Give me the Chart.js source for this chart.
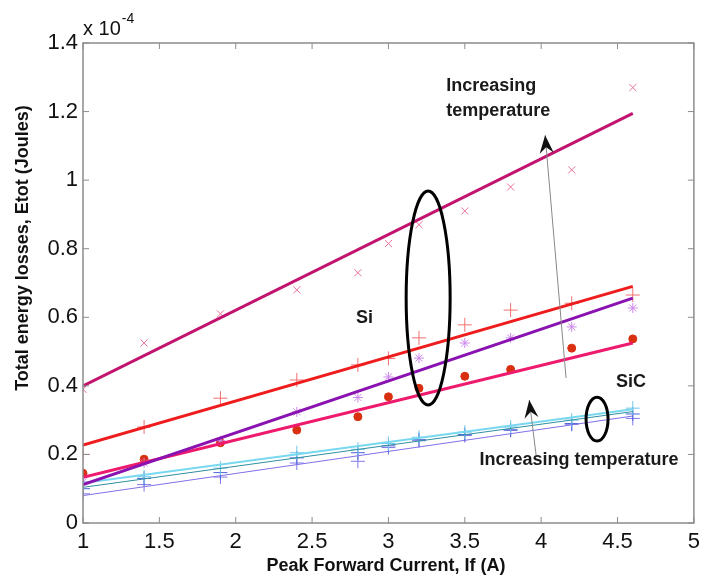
<!DOCTYPE html>
<html><head><meta charset="utf-8">
<script src="https://cdn.jsdelivr.net/npm/chart.js@4/dist/chart.umd.min.js"></script>
<style>html,body{margin:0;padding:0;background:#fff}#wrap{width:706px;height:578px}</style>
</head><body><div id="wrap"><canvas id="c" width="706" height="578"></canvas></div>
<script>
// ---- data (values in units of 1e-4 J) ----
const currents = [1, 1.4, 1.9, 2.4, 2.8, 3.0, 3.2, 3.5, 3.8, 4.2, 4.6];
const siCross  = [0.39, 0.525, 0.61, 0.68, 0.73, 0.815, 0.87, 0.91, 0.98, 1.03, 1.27];
const siPlus   = [0.20, 0.28, 0.364, 0.417, 0.461, 0.48, 0.54, 0.578, 0.621, 0.641, 0.665];
const siStar   = [0.12, 0.175, 0.24, 0.324, 0.366, 0.426, 0.481, 0.525, 0.54, 0.572, 0.627];
const siDot    = [0.145, 0.186, 0.234, 0.271, 0.31, 0.368, 0.393, 0.428, 0.448, 0.51, 0.537];
const sicA     = [0.115, 0.135, 0.16, 0.205, 0.215, 0.232, 0.25, 0.265, 0.28, 0.30, 0.335];
const sicB     = [0.10, 0.13, 0.147, 0.19, 0.205, 0.225, 0.243, 0.258, 0.272, 0.29, 0.318];
const sicC     = [0.085, 0.112, 0.134, 0.175, 0.18, 0.22, 0.24, 0.255, 0.27, 0.288, 0.305];
const fitX      = [1, 4.6];
const fitSiCross = [0.40, 1.195];
const fitSiPlus  = [0.227, 0.69];
const fitSiStar  = [0.112, 0.656];
const fitSiDot   = [0.133, 0.525];
const fitSicA    = [0.117, 0.332];
const fitSicB    = [0.104, 0.325];
const fitSicC    = [0.08, 0.312];
const xTicks = [1, 1.5, 2, 2.5, 3, 3.5, 4, 4.5, 5];
const yTicks = [0, 0.2, 0.4, 0.6, 0.8, 1, 1.2, 1.4];

const pts = (xs, ys) => xs.map((x, i) => ({x, y: ys[i]}));
const fitDs = (ys, color, w) => ({data: pts(fitX, ys), showLine: true, borderColor: color, borderWidth: w, pointRadius: 0, fill: false});
const markDs = (ys, style, color, r, w) => ({data: pts(currents, ys), showLine: false, pointStyle: style, pointRadius: r, borderColor: color, backgroundColor: color, pointBorderWidth: w});

const FONT = '"Liberation Sans", Arial, Helvetica, sans-serif';

function line(ctx, x1, y1, x2, y2) { ctx.beginPath(); ctx.moveTo(x1, y1); ctx.lineTo(x2, y2); ctx.stroke(); }
function arrow(ctx, x1, y1, x2, y2) {
  ctx.strokeStyle = '#888'; ctx.lineWidth = 1;
  line(ctx, x1, y1, x2, y2);
  const ang = Math.atan2(y2 - y1, x2 - x1);
  const L = 18, W = 7, N = 12;
  const bx = x2 - Math.cos(ang) * L, by = y2 - Math.sin(ang) * L;
  const nx = x2 - Math.cos(ang) * N, ny = y2 - Math.sin(ang) * N;
  const px = -Math.sin(ang) * W, py = Math.cos(ang) * W;
  ctx.fillStyle = '#111';
  ctx.beginPath();
  ctx.moveTo(x2, y2); ctx.lineTo(bx + px, by + py); ctx.lineTo(nx, ny); ctx.lineTo(bx - px, by - py); ctx.closePath();
  ctx.fill();
}

const frame = {
  id: 'frame',
  afterDraw(chart) {
    const {ctx, chartArea: a, scales: {x, y}} = chart;
    ctx.save();
    ctx.strokeStyle = '#8c8c8c'; ctx.lineWidth = 1.5;
    ctx.strokeRect(a.left, a.top, a.right - a.left, a.bottom - a.top);
    ctx.lineWidth = 1;
    const L = 6;
    xTicks.forEach(v => { const p = x.getPixelForValue(v); line(ctx, p, a.bottom, p, a.bottom - L); line(ctx, p, a.top, p, a.top + L); });
    yTicks.forEach(v => { const p = y.getPixelForValue(v); line(ctx, a.left, p, a.left + L, p); line(ctx, a.right, p, a.right - L, p); });

    // exponent
    ctx.fillStyle = '#111'; ctx.textBaseline = 'alphabetic'; ctx.textAlign = 'left';
    ctx.font = '20px ' + FONT;
    ctx.fillText('x 10', a.left, 35);
    const w = ctx.measureText('x 10').width;
    ctx.font = '14px ' + FONT;
    ctx.fillText('-4', a.left + w + 1, 23);

    // axis titles
    ctx.font = 'bold 18px ' + FONT; ctx.textAlign = 'center'; ctx.textBaseline = 'middle';
    ctx.fillText('Peak Forward Current, If (A)', 386, 566);
    ctx.save(); ctx.translate(23, 248); ctx.rotate(-Math.PI / 2);
    ctx.fillText('Total energy losses, Etot (Joules)', 0, 0);
    ctx.restore();

    // annotations (anchored in data coordinates)
    const X = v => x.getPixelForValue(v), Y = v => y.getPixelForValue(v);
    ctx.strokeStyle = '#000'; ctx.lineWidth = 3;
    ctx.beginPath(); ctx.ellipse(X(3.26), Y(0.656), X(3.26 + 0.144) - X(3.26), Y(0) - Y(0.312), 0, 0, Math.PI * 2); ctx.stroke();
    ctx.beginPath(); ctx.ellipse(X(4.366), Y(0.303), X(1.072) - X(1), Y(0) - Y(0.064), 0, 0, Math.PI * 2); ctx.stroke();

    ctx.fillStyle = '#1a1a1a'; ctx.font = 'bold 18px ' + FONT;
    ctx.textAlign = 'center'; ctx.textBaseline = 'middle';
    ctx.fillText('Si', X(2.843), Y(0.598));
    ctx.fillText('SiC', X(4.588), Y(0.411));
    ctx.fillText('Increasing temperature', X(4.248), Y(0.184));
    ctx.textAlign = 'left';
    ctx.fillText('Increasing', X(3.379), Y(1.274));
    ctx.fillText('temperature', X(3.379), Y(1.2015));

    arrow(ctx, X(4.163), Y(0.423), X(4.026), Y(1.131));
    arrow(ctx, X(3.967), Y(0.198), X(3.922), Y(0.359));
    ctx.restore();
  }
};

new Chart(document.getElementById('c'), {
  type: 'scatter',
  data: {
    datasets: [
      fitDs(fitSiCross, '#c2146f', 3),
      fitDs(fitSiPlus, '#ee1c1c', 3),
      fitDs(fitSiStar, '#8a12b0', 3),
      fitDs(fitSiDot, '#ee1a6e', 3),
      fitDs(fitSicA, '#78d8f0', 2),
      fitDs(fitSicB, '#2f8fa0', 1),
      fitDs(fitSicC, '#8070e8', 1),
      markDs(siCross, 'crossRot', '#e8709a', 5, 1),
      markDs(siPlus, 'cross', '#f07070', 7, 1),
      markDs(siStar, 'star', '#cc88ec', 5, 1),
      markDs(siDot, 'circle', '#d83010', 4, 1),
      markDs(sicA, 'cross', '#70c8e8', 7, 1),
      markDs(sicB, 'cross', '#4a64d8', 7, 1),
      markDs(sicC, 'cross', '#7f78e8', 7, 1)
    ]
  },
  options: {
    responsive: false, devicePixelRatio: 1, animation: false,
    layout: {padding: {top: 43, right: 11, left: 0, bottom: 0}},
    plugins: {legend: {display: false}, tooltip: {enabled: false}},
    elements: {line: {tension: 0}},
    scales: {
      x: {
        type: 'linear', min: 1, max: 5,
        afterBuildTicks: s => { s.ticks = xTicks.map(v => ({value: v})); },
        afterFit: s => { s.height = 55; },
        grid: {display: false, drawTicks: false}, border: {display: false},
        ticks: {padding: 6, color: '#111', font: {family: FONT, size: 22}, callback: v => String(+v.toFixed(2)), maxRotation: 0, autoSkip: false}
      },
      y: {
        type: 'linear', min: 0, max: 1.4,
        afterBuildTicks: s => { s.ticks = yTicks.map(v => ({value: v})); },
        afterFit: s => { s.width = 83; },
        grid: {display: false, drawTicks: false}, border: {display: false},
        ticks: {padding: 5, color: '#111', font: {family: FONT, size: 22}, callback: v => String(+v.toFixed(2)), autoSkip: false}
      }
    }
  },
  plugins: [frame]
});
</script>
</body></html>
